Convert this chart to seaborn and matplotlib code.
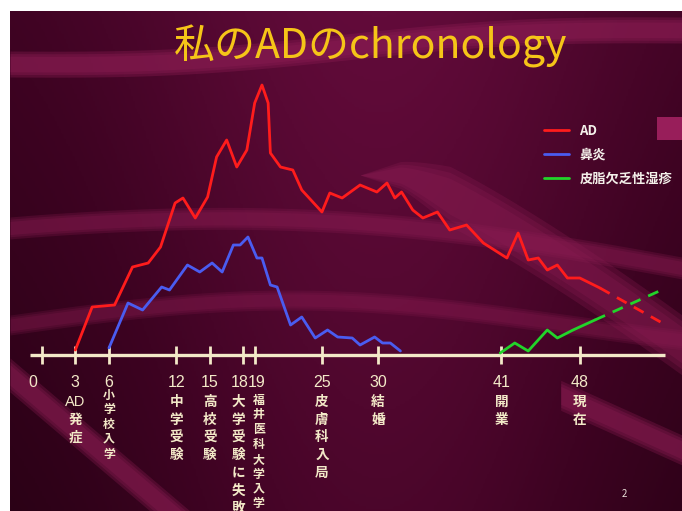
import numpy as np
import pandas as pd
import matplotlib
matplotlib.use("Agg")
import matplotlib.pyplot as plt
from matplotlib.colors import LinearSegmentedColormap
from matplotlib.lines import Line2D
import seaborn as sns

# ---------------- data ----------------
title = "私のADのchronology"
series_names = ["AD", "鼻炎", "皮脂欠乏性湿疹"]

ad_age = [3.0, 4.5, 6.5, 8.1, 9.5, 10.6, 11.9, 12.6, 13.7, 14.8, 15.6, 16.5, 17.4, 18.3,
          19.0, 19.65, 20.2, 20.4, 21.3, 22.4, 23.2, 25.0, 25.7, 26.8, 28.4, 29.9, 30.8,
          31.5, 32.1, 33.1, 34.0, 35.3, 36.4, 37.9, 39.4, 41.5, 42.5, 43.4, 44.3, 45.1,
          46.0, 46.9, 48.0, 49.8]
ad_val = [5, 48, 50, 88, 92, 108, 152, 157, 137, 158, 198, 215, 188, 205,
          252, 270, 252, 202, 188, 185, 165, 143, 162, 157, 170, 163, 172,
          157, 163, 145, 137, 143, 125, 130, 112, 97, 122, 95, 97, 85,
          90, 77, 77, 67]
ad_ext_age = [49.8, 55.2]
ad_ext_val = [67, 33]

rh_age = [6.0, 7.7, 9.0, 10.7, 11.4, 13.0, 14.1, 15.2, 16.1, 17.1, 17.7, 18.4, 19.2,
          19.65, 20.4, 21.0, 22.2, 23.2, 24.4, 25.5, 26.4, 27.7, 28.4, 29.7, 30.4, 31.1, 32.0]
rh_val = [7, 52, 45, 68, 65, 90, 83, 92, 83, 110, 110, 118, 97,
          97, 70, 68, 30, 38, 17, 25, 18, 17, 10, 18, 12, 12, 4]

ec_age = [40.9, 42.2, 43.4, 45.1, 46.0, 47.4, 49.35]
ec_val = [2, 12, 4, 25, 17, 25, 35]
ec_ext_age = [49.35, 55.3]
ec_ext_val = [35, 65]

tick_ages = [0, 3, 6, 12, 15, 18, 19, 25, 30, 41, 48]
tick_numbers = ["0", "3", "6", "12", "15", "18", "19", "25", "30", "41", "48"]
tick_words = ["", "AD発症", "小学校入学", "中学受験", "高校受験", "大学受験に失敗",
              "福井医科大学入学", "皮膚科入局", "結婚", "開業", "現在"]

colors = {"AD": "#ff1c1c", "鼻炎": "#4a5cf0", "皮脂欠乏性湿疹": "#22d42a"}

# ---------------- figure ----------------
sns.set_theme(style="white")
plt.rcParams["font.family"] = ["Noto Sans CJK JP", "DejaVu Sans"]

W, H = 682, 511
fig = plt.figure(figsize=(W / 100, H / 100), dpi=100, facecolor="white")

# slide background
bg = fig.add_axes([10 / W, 0, 672 / W, 500 / H])
bg.set_axis_off()
xs = np.linspace(0, 1, 300)
ys = np.linspace(0, 1, 200)
X, Y = np.meshgrid(xs, ys)
lum = 0.55 + 0.45 * np.exp(-((X - 0.55) / 0.40) ** 2) - 0.25 * Y
cmap = LinearSegmentedColormap.from_list("slide", ["#1e000e", "#3e0322", "#620b3a"])
bg.imshow(lum, cmap=cmap, aspect="auto", extent=[10, 682, 511, 11], vmin=0.2, vmax=1.0)
bg.set_xlim(10, 682)
bg.set_ylim(511, 11)
band = "#8a1c52"
px = np.linspace(10, 682, 400)
t = (px - 10) / 672


def soft_band(xv, center, half, alpha):
    for f in [1.0, 0.8, 0.6]:
        bg.fill_between(xv, center - half * f, center + half * f, color=band,
                        alpha=alpha / 2.2, lw=0)


# decorative swooshes
top_c = 64 - 34 * t + 6 * np.sin(t * np.pi * 2)
soft_band(px, top_c, 13, 0.8)
mid_c = 228 + 40 * t ** 1.5 - 20 * np.sin(t * np.pi)
soft_band(px, mid_c, 11, 0.55)
m = px > 360
r_c = 175 + 170 * np.clip((px - 400) / 282, 0, 1) ** 1.2
r_half = 30 * np.clip((px - 360) / 90, 0, 1)
soft_band(px[m], r_c[m], r_half[m], 0.6)
low_c = 325 - 25 * np.sin(t * np.pi * 1.2)
soft_band(px, low_c, 10, 0.45)
m2 = px < 230
d_c = 375 + 0.85 * (px - 10)
soft_band(px[m2], d_c[m2], 17, 0.7)
m3 = px > 560
r2 = 395 + 55 * np.clip((px - 560) / 122, 0, 1)
soft_band(px[m3], r2[m3], 15, 0.7)
bg.fill_between([657, 682], [117, 117], [140, 140], color="#a82464", alpha=0.85, lw=0)

# main chart axes: age -> pixel x = 41.7 + 11.21*age ; level -> pixel y = 355 - level
ax = fig.add_axes([0, 0, 1, 1])
ax.patch.set_alpha(0)
ax.set_xlim(-41.7 / 11.21, (W - 41.7) / 11.21)
ax.set_ylim(355 - H, 355)
ax.set_axis_off()

df = pd.concat([
    pd.DataFrame({"age": ad_age, "level": ad_val, "series": "AD"}),
    pd.DataFrame({"age": rh_age, "level": rh_val, "series": "鼻炎"}),
    pd.DataFrame({"age": ec_age, "level": ec_val, "series": "皮脂欠乏性湿疹"}),
], ignore_index=True)
sns.lineplot(data=df, x="age", y="level", hue="series", palette=colors,
             hue_order=series_names, sort=False, estimator=None, lw=2.0, ax=ax,
             legend=False, solid_joinstyle="round", solid_capstyle="round")
ext = pd.concat([
    pd.DataFrame({"age": ad_ext_age, "level": ad_ext_val, "series": "AD"}),
    pd.DataFrame({"age": ec_ext_age, "level": ec_ext_val, "series": "皮脂欠乏性湿疹"}),
], ignore_index=True)
sns.lineplot(data=ext, x="age", y="level", hue="series", palette=colors,
             sort=False, estimator=None, lw=2.0, ax=ax, legend=False,
             dashes=False, linestyle=(0, (4, 3)))

# timeline axis
cream = "#f3e9c8"
ax.plot([-1.0, 55.6], [0, 0], color=cream, lw=2.4, solid_capstyle="butt", zorder=1)
ax.vlines(tick_ages, -9, 9, color=cream, lw=2.0, zorder=1)

digit_font = ["Liberation Sans Narrow", "Liberation Sans", "DejaVu Sans"]
for a, num, word in zip(tick_ages, tick_numbers, tick_words):
    shift = {0: -0.8, 18: -0.3, 19: 0.15}.get(a, 0.0)
    ax.text(a + shift, -27, num, ha="center", va="center", color=cream, fontsize=11.5,
            family=digit_font)
    if not word:
        continue
    if word.startswith("AD"):
        chars = ["AD"] + list(word[2:])
    else:
        chars = list(word)
    if a in (6, 19):
        pitch, fs, y0 = 14.8, 8.6, (-40 if a == 6 else -45)
    else:
        pitch, fs, y0 = 17.7, 9.8, -47
    cshift = {18: -0.45, 19: 0.35}.get(a, 0.0)
    for i, ch in enumerate(chars):
        if ch == "AD":
            ax.text(a + cshift, y0 - pitch * i, ch, ha="center", va="center", color=cream,
                    fontsize=10.5, family=digit_font)
        else:
            ax.text(a + cshift, y0 - pitch * i, ch, ha="center", va="center", color=cream,
                    fontsize=fs, fontweight="bold")

# title
fig.text(371 / W, 1 - 46 / H, title, ha="center", va="center", color="#f5c518",
         fontsize=29.5)

# legend
handles = [Line2D([0], [0], color=colors[s], lw=2.0) for s in series_names]
leg = ax.legend(handles, series_names, loc="upper left",
                bbox_to_anchor=(532 / W, 1 - 112 / H), frameon=False,
                handlelength=1.9, handletextpad=0.8, labelspacing=0.75,
                prop={"family": ["Noto Sans CJK JP", "DejaVu Sans"], "weight": "bold", "size": 9.5})
for tt in leg.get_texts():
    tt.set_color("#f4f0ea")

fig.text(624 / W, 1 - 494 / H, "2", ha="center", va="center", color="#e8e0d8", fontsize=7)

fig.savefig("out.png", dpi=100, facecolor="white")
